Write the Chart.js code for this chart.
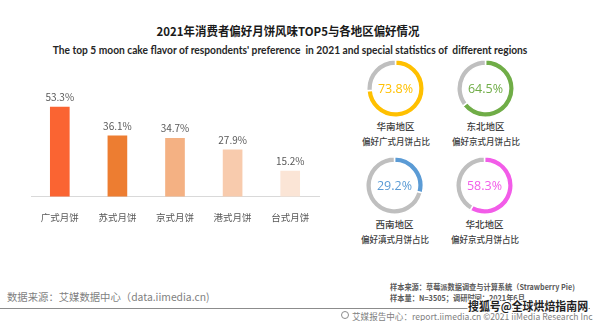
<!DOCTYPE html>
<html>
<head>
<meta charset="utf-8">
<script src="https://cdn.jsdelivr.net/npm/chart.js@4"></script>
<style>
  html, body { margin: 0; padding: 0; background: #fff; }
  #page { position: relative; width: 600px; height: 321px; overflow: hidden; background: #fff;
          font-family: "Noto Sans CJK SC", sans-serif; }
  .t { position: absolute; white-space: nowrap; line-height: 1; }
  canvas { position: absolute; }
  #rule { position: absolute; left: 0; top: 308px; width: 590px; height: 1px; background: #8c8c8c; }
  #globe { position: absolute; left: 341px; top: 311px; width: 8px; height: 8px; border: 1px solid #8c8c8c;
           border-radius: 50%; box-sizing: border-box; }
</style>
</head>
<body>
<div id="page">
  <canvas id="bars" width="340" height="180" style="left:0;top:66px"></canvas>
  <canvas id="d0" width="59" height="59"></canvas>
  <canvas id="d1" width="59" height="59"></canvas>
  <canvas id="d2" width="59" height="59"></canvas>
  <canvas id="d3" width="59" height="59"></canvas>
  <div id="rule"></div>
  <div id="globe"></div>
</div>
<script>
const flavors = ['广式月饼', '苏式月饼', '京式月饼', '港式月饼', '台式月饼'];
const flavorShare = [53.3, 36.1, 34.7, 27.9, 15.2];
const regions = ['华南地区', '东北地区', '西南地区', '华北地区'];
const regionFlavor = ['偏好广式月饼占比', '偏好京式月饼占比', '偏好滇式月饼占比', '偏好京式月饼占比'];
const regionShare = [73.8, 64.5, 29.2, 58.3];

const barColors = ['#fa6432', '#ed7d31', '#f4b183', '#f8cbad', '#fbe5d6'];
const ringColors = ['#ffc000', '#70ad47', '#5b9bd5', '#f25ce8'];
const ringCenters = [[395.5, 88], [485.5, 88], [394.5, 185.5], [484.5, 185.5]];

Chart.defaults.font.family = '"Noto Sans CJK SC", sans-serif';
Chart.defaults.animation = false;

const page = document.getElementById('page');

// absolutely placed text; w = width to squeeze/stretch the text to
function label(text, x, y, css, align, w) {
  const el = document.createElement('div');
  el.className = 't';
  el.textContent = text;
  el.style.cssText += css;
  el.style.left = x + 'px';
  el.style.top = y + 'px';
  page.appendChild(el);
  const s = w ? w / el.scrollWidth : 1;
  if (align === 'left') {
    el.style.transformOrigin = '0 50%';
    el.style.transform = `translateY(-50%) scaleX(${s})`;
  } else {
    el.style.transform = `translate(-50%,-50%) scaleX(${s})`;
  }
  return el;
}

label('2021年消费者偏好月饼风味TOP5与各地区偏好情况', 288, 31,
  'font-size:12px;font-weight:700;color:#1a1a1a;', 'center', 263);
label("The top 5 moon cake flavor of respondents' preference  in 2021 and special statistics of  different regions", 290, 50,
  'font-family:Lato,sans-serif;font-size:12px;font-weight:700;color:#262626;white-space:pre;', 'center', 475);

// value labels above each bar
const barValues = {
  id: 'barValues',
  afterDatasetsDraw(chart) {
    const ctx = chart.ctx;
    const meta = chart.getDatasetMeta(0);
    ctx.save();
    ctx.font = '10px "Noto Sans CJK SC", sans-serif';
    ctx.fillStyle = '#595959';
    ctx.textAlign = 'center';
    ctx.textBaseline = 'middle';
    meta.data.forEach((bar, i) => {
      ctx.fillText(chart.data.datasets[0].data[i].toFixed(1) + '%', bar.x, bar.y - 10);
    });
    ctx.restore();
  }
};

new Chart(document.getElementById('bars'), {
  type: 'bar',
  data: {
    labels: flavors,
    datasets: [{
      data: flavorShare,
      backgroundColor: barColors,
      barThickness: 19
    }]
  },
  options: {
    responsive: false,
    devicePixelRatio: 1,
    layout: { padding: { left: 31, right: 21, top: 13, bottom: 8 } },
    plugins: { legend: { display: false }, tooltip: { enabled: false } },
    scales: {
      x: {
        grid: { display: false, drawTicks: false },
        border: { display: true, color: '#d9d9d9', width: 1 },
        ticks: { color: '#595959', font: { size: 9.5 }, padding: 15 }
      },
      y: { display: false, min: 0, max: 70 }
    }
  },
  plugins: [barValues]
});

// percentage in the middle of each ring
const ringText = {
  id: 'ringText',
  afterDraw(chart) {
    const arc = chart.getDatasetMeta(0).data[0];
    const ctx = chart.ctx;
    ctx.save();
    ctx.font = '12.5px "Open Sans", sans-serif';
    ctx.fillStyle = chart.data.datasets[0].backgroundColor[0];
    ctx.textAlign = 'center';
    ctx.textBaseline = 'middle';
    ctx.fillText(chart.data.datasets[0].data[0].toFixed(1) + '%', arc.x, arc.y + 1);
    ctx.restore();
  }
};

regionShare.forEach((v, i) => {
  const cv = document.getElementById('d' + i);
  const [cx, cy] = ringCenters[i];
  cv.style.left = (cx - 29.5) + 'px';
  cv.style.top = (cy - 29.5) + 'px';
  new Chart(cv, {
    type: 'doughnut',
    data: {
      labels: [regionFlavor[i], ''],
      datasets: [{
        data: [v, +(100 - v).toFixed(1)],
        backgroundColor: [ringColors[i], '#bfbfbf'],
        borderColor: '#ffffff',
        borderWidth: 1.5
      }]
    },
    options: {
      responsive: false,
      devicePixelRatio: 1,
      cutout: '80%',
      plugins: { legend: { display: false }, tooltip: { enabled: false } }
    },
    plugins: [ringText]
  });
  label(regions[i], cx, cy + 39, 'font-size:9.5px;font-weight:500;color:#404040;', 'center');
  label(regionFlavor[i], cx, cy + 53, 'font-size:9px;font-weight:500;color:#404040;', 'center', 68);
});

// source notes
label('数据来源：艾媒数据中心（data.iimedia.cn)', 7, 297,
  'font-size:10.5px;color:#7f7f7f;', 'left', 203);
label('样本来源：草莓派数据调查与计算系统（Strawberry Pie)', 390, 287,
  'font-size:7.5px;font-weight:700;color:#595959;', 'left', 185);
label('样本量：N=3505；调研时间：2021年6月', 390, 298,
  'font-size:7.5px;font-weight:700;color:#595959;', 'left', 135);
label('艾媒报告中心：report.iimedia.cn ©2021 iiMedia Research Inc', 352, 316,
  'font-size:9px;color:#7f7f7f;', 'left', 241);
label('搜狐号@全球烘焙指南网', 468, 306,
  'font-size:12px;font-weight:700;color:#1f1f1f;text-shadow:1px 0 #fff,-1px 0 #fff,0 1px #fff,0 -1px #fff,1px 1px #fff,-1px -1px #fff,1px -1px #fff,-1px 1px #fff;', 'left', 120);
</script>
</body>
</html>
